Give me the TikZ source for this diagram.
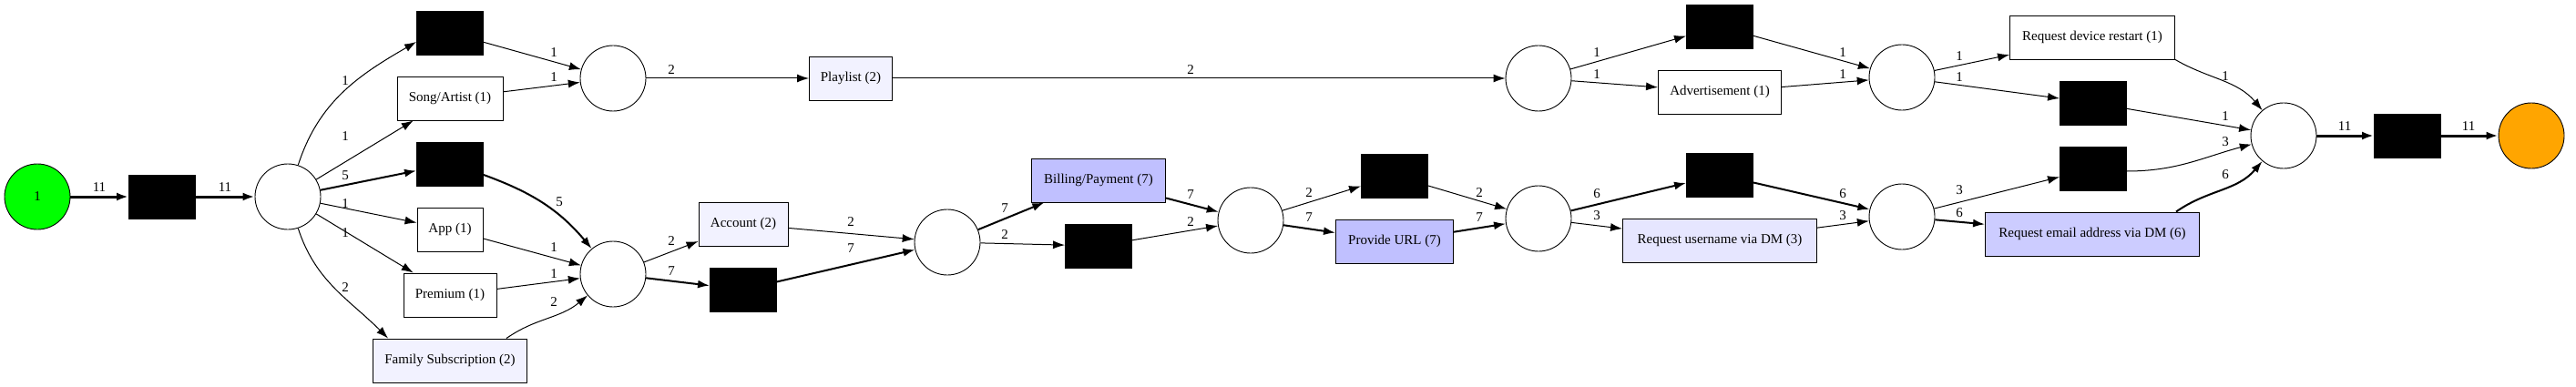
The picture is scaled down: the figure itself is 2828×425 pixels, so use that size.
\documentclass[tikz,border=0pt]{standalone}
\usepackage{fontspec}
\setmainfont{Liberation Serif}
\usetikzlibrary{arrows.meta}
\definecolor{palelav}{HTML}{F2F2FF}
\definecolor{lightlav}{HTML}{E6E6FF}
\definecolor{midlav}{HTML}{CCCCFF}
\definecolor{deeplav}{HTML}{C0C0FF}
\definecolor{startgreen}{HTML}{00FF00}
\definecolor{endorange}{HTML}{FFA500}

\begin{document}
\begin{tikzpicture}[x=1pt,y=-1pt,>={Latex[length=13pt,width=9pt]},
	place/.style={draw,circle,line width=0.9pt,minimum size=72pt,inner sep=0pt,font=\fontsize{15}{18}\selectfont},
	silent/.style={draw,fill=black,line width=0.9pt,minimum width=73pt,minimum height=48pt,inner sep=0pt},
	trans/.style={draw,line width=0.9pt,minimum height=48pt,inner sep=0pt,font=\fontsize{15}{18}\selectfont},
	lbl/.style={inner sep=0pt,font=\fontsize{15}{18}\selectfont}]
\useasboundingbox (0,0) rectangle (2828,425);

% draw the places
\node[place,fill=startgreen] (start) at (41,216) {1};
\node[place,fill=endorange] (end) at (2779,149) {};
\foreach \n/\x/\y in {
	p1/316/216, p2/673/86, p3/673/301, p4/1040/266, p5/1373/242,
	p6/1689/86, p7/2088/85, p8/1689/240, p9/2088/238, p10/2507/149}
\node[place] (\n) at (\x,\y) {};

% draw the silent transitions
\foreach \n/\x/\y in {
	tStart/178/216, tA/494/36, tB/494/180, tC/816/318, tD/1206/270,
	tE/1888/29, tF/1531/193, tG/1888/192, tH/2298/113, tI/2298/185,
	tEnd/2643/149}
\node[silent] (\n) at (\x,\y) {};

% draw the labelled transitions
\foreach \n/\x/\y/\w/\c/\t in {
	song/494/108/116/white/{Song/Artist (1)},
	app/494/252/72/white/{App (1)},
	premium/494/324/102/white/{Premium (1)},
	family/494/396/169/palelav/{Family Subscription (2)},
	playlist/934/86/91/palelav/{Playlist (2)},
	account/816/246/98/palelav/{Account (2)},
	billing/1206/198/147/deeplav/{Billing/Payment (7)},
	url/1531/265/129/deeplav/{Provide URL (7)},
	advert/1888/101/135/white/{Advertisement (1)},
	requser/1888/264/213/lightlav/{Request username via DM (3)},
	restart/2297/41/181/white/{Request device restart (1)},
	email/2297/257/235/midlav/{Request email address via DM (6)}}
\node[trans,fill=\c,minimum width=\w] (\n) at (\x,\y) {\t};

% straight arcs with their counts
\foreach \a/\b/\lw/\w/\lx/\ly in {
	start/tStart/3/11/109/206, tStart/p1/3/11/247/206,
	p1/song/1/1/379/150, p1/tB/2/5/379/193, p1/app/1/1/379/224, p1/premium/1/1/379/256,
	tA/p2/1/1/608/58, song/p2/1/1/608/85, app/p3/1/1/608/272, premium/p3/1/1/608/301,
	p2/playlist/1/2/737/77, playlist/p6/1/2/1307/77,
	p3/account/1/2/737/265, p3/tC/2/7/737/298,
	account/p4/1/2/934/244, tC/p4/2/7/934/273,
	p4/billing/2/7/1103/229, p4/tD/1/2/1103/258,
	billing/p5/2/7/1307/214, tD/p5/1/2/1307/244,
	p5/tF/1/2/1437/212, p5/url/2/7/1437/239,
	tF/p8/1/2/1624/212, url/p8/2/7/1624/239,
	p6/tE/1/1/1753/58, p6/advert/1/1/1753/82,
	tE/p7/1/1/2023/58, advert/p7/1/1/2023/82,
	p8/tG/2/6/1753/213, p8/requser/1/3/1753/237,
	tG/p9/2/6/2023/213, requser/p9/1/3/2023/237,
	p7/restart/1/1/2151/62, p7/tH/1/1/2151/85, tH/p10/1/1/2443/128,
	p9/tI/1/3/2151/209, p9/email/2/6/2151/234,
	p10/tEnd/3/11/2574/139, tEnd/end/3/11/2710/139}
\draw[->,line width=\lw pt] (\a) -- (\b) node[lbl] (l-\a-\b) at (\lx,\ly) {\w};

% the bent arcs
\draw[->,line width=1pt] (p1) to[out=72,in=210] ([yshift=-10pt]tA.west)
	node[lbl] (l-p1-tA) at (379,89) {1};
\draw[->,line width=1pt] (p1) to[out=-72,in=135] ([xshift=17pt]family.north west)
	node[lbl] (l-p1-family) at (379,316) {2};
\draw[->,line width=2pt] ([yshift=-12pt]tB.east) to[out=-20,in=130] (p3)
	node[lbl] (l-tB-p3) at (614,222) {5};
\draw[->,line width=1pt] ([xshift=-23pt]family.north east) to[out=35,in=220] (p3)
	node[lbl] (l-family-p3) at (608,332) {2};
\draw[->,line width=1pt] (restart.south east) to[out=-30,in=130] (p10)
	node[lbl] (l-restart-p10) at (2443,84) {1};
\draw[->,line width=1pt] ([yshift=-3pt]tI.east) to[out=0,in=195] (p10)
	node[lbl] (l-tI-p10) at (2443,156) {3};
\draw[->,line width=2pt] ([xshift=-26pt]email.north east) to[out=35,in=230] (p10)
	node[lbl] (l-email-p10) at (2443,192) {6};
\end{tikzpicture}
\end{document}
